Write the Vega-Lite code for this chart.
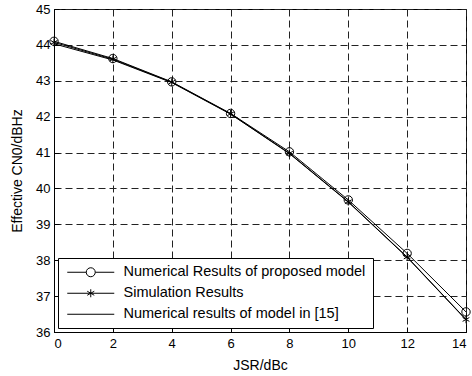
{
  "$schema": "https://vega.github.io/schema/vega-lite/v6.json",
  "width": 412,
  "height": 323,
  "autosize": "none",
  "padding": {"left": 54, "top": 9, "right": 6, "bottom": 44},
  "background": "white",
  "config": {
    "font": "Liberation Sans",
    "view": {"stroke": "black", "strokeWidth": 1},
    "axis": {
      "labelFont": "Liberation Sans",
      "labelFontSize": 13,
      "labelColor": "black",
      "titleFont": "Liberation Sans",
      "titleFontSize": 14,
      "titleFontWeight": "normal",
      "titleColor": "black",
      "domainColor": "black",
      "tickColor": "black",
      "grid": true,
      "gridColor": "#222222",
      "gridDash": [7, 4],
      "gridOpacity": 1,
      "gridWidth": 1
    }
  },
  "datasets": {
    "curves": [
      {"jsr": 0, "cn0": 44.1, "series": "Numerical Results of proposed model"},
      {"jsr": 2, "cn0": 43.62, "series": "Numerical Results of proposed model"},
      {"jsr": 4, "cn0": 42.97, "series": "Numerical Results of proposed model"},
      {"jsr": 6, "cn0": 42.09, "series": "Numerical Results of proposed model"},
      {"jsr": 8, "cn0": 41.02, "series": "Numerical Results of proposed model"},
      {"jsr": 10, "cn0": 39.68, "series": "Numerical Results of proposed model"},
      {"jsr": 12, "cn0": 38.19, "series": "Numerical Results of proposed model"},
      {"jsr": 14, "cn0": 36.56, "series": "Numerical Results of proposed model"},
      {"jsr": 0, "cn0": 44.07, "series": "Simulation Results"},
      {"jsr": 2, "cn0": 43.6, "series": "Simulation Results"},
      {"jsr": 4, "cn0": 42.96, "series": "Simulation Results"},
      {"jsr": 6, "cn0": 42.08, "series": "Simulation Results"},
      {"jsr": 8, "cn0": 40.98, "series": "Simulation Results"},
      {"jsr": 10, "cn0": 39.63, "series": "Simulation Results"},
      {"jsr": 12, "cn0": 38.09, "series": "Simulation Results"},
      {"jsr": 14, "cn0": 36.35, "series": "Simulation Results"},
      {"jsr": 0, "cn0": 44.03, "series": "Numerical results of model in [15]"},
      {"jsr": 2, "cn0": 43.58, "series": "Numerical results of model in [15]"},
      {"jsr": 4, "cn0": 42.95, "series": "Numerical results of model in [15]"},
      {"jsr": 6, "cn0": 42.07, "series": "Numerical results of model in [15]"},
      {"jsr": 8, "cn0": 40.97, "series": "Numerical results of model in [15]"},
      {"jsr": 10, "cn0": 39.62, "series": "Numerical results of model in [15]"},
      {"jsr": 12, "cn0": 38.08, "series": "Numerical results of model in [15]"},
      {"jsr": 14, "cn0": 36.34, "series": "Numerical results of model in [15]"}
    ]
  },
  "data": {"name": "curves"},
  "encoding": {
    "x": {
      "field": "jsr",
      "type": "quantitative",
      "scale": {"domain": [0, 14], "nice": false},
      "axis": {"values": [0, 2, 4, 6, 8, 10, 12, 14], "title": "JSR/dBc", "tickSize": -5, "labelPadding": 10, "titlePadding": 8}
    },
    "y": {
      "field": "cn0",
      "type": "quantitative",
      "scale": {"domain": [36, 45], "nice": false, "zero": false},
      "axis": {"values": [36, 37, 38, 39, 40, 41, 42, 43, 44, 45], "title": "Effective CN0/dBHz", "tickSize": -5, "labelPadding": 9, "titlePadding": 11}
    }
  },
  "layer": [
    {
      "mark": {"type": "line", "strokeWidth": 1, "color": "black"},
      "encoding": {
        "color": {
          "field": "series",
          "type": "nominal",
          "scale": {
            "domain": ["Numerical Results of proposed model", "Simulation Results", "Numerical results of model in [15]"],
            "range": ["black", "black", "black"]
          },
          "legend": {
            "title": null,
            "orient": "bottom-left",
            "offset": 4,
            "padding": 7,
            "fillColor": "white",
            "strokeColor": "black",
            "labelFont": "Liberation Sans",
            "labelFontSize": 14.5,
            "labelColor": "black",
            "labelOffset": 44,
            "labelLimit": 400,
            "rowPadding": 6,
            "symbolSize": 100,
            "symbolStrokeWidth": 1,
            "symbolStrokeColor": "black",
            "symbolFillColor": "transparent",
            "encode": {
              "symbols": {
                "update": {
                  "shape": {"signal": "datum.value === 'Numerical Results of proposed model' ? 'M-1,0L2.8,0M4.6,0L8.4,0M4.6,0A0.9,0.9,0,1,1,2.8,0A0.9,0.9,0,1,1,4.6,0' : datum.value === 'Simulation Results' ? 'M-1,0L8.4,0M3.7,-0.8L3.7,0.8M3.0,-0.4L4.4,0.4M3.0,0.4L4.4,-0.4' : 'M-1,0L8.4,0'"},
                  "stroke": {"value": "black"},
                  "fill": {"value": "transparent"},
                  "strokeWidth": {"value": 1}
                }
              }
            }
          }
        }
      }
    },
    {
      "transform": [{"filter": "datum.series === 'Numerical Results of proposed model'"}],
      "mark": {"type": "point", "shape": "circle", "filled": false, "size": 70, "stroke": "black", "strokeWidth": 1, "opacity": 1}
    },
    {
      "transform": [{"filter": "datum.series === 'Simulation Results'"}],
      "mark": {"type": "point", "shape": "M0,-1L0,1M-0.87,-0.5L0.87,0.5M-0.87,0.5L0.87,-0.5", "filled": false, "size": 60, "stroke": "black", "strokeWidth": 1, "opacity": 1}
    }
  ]
}
